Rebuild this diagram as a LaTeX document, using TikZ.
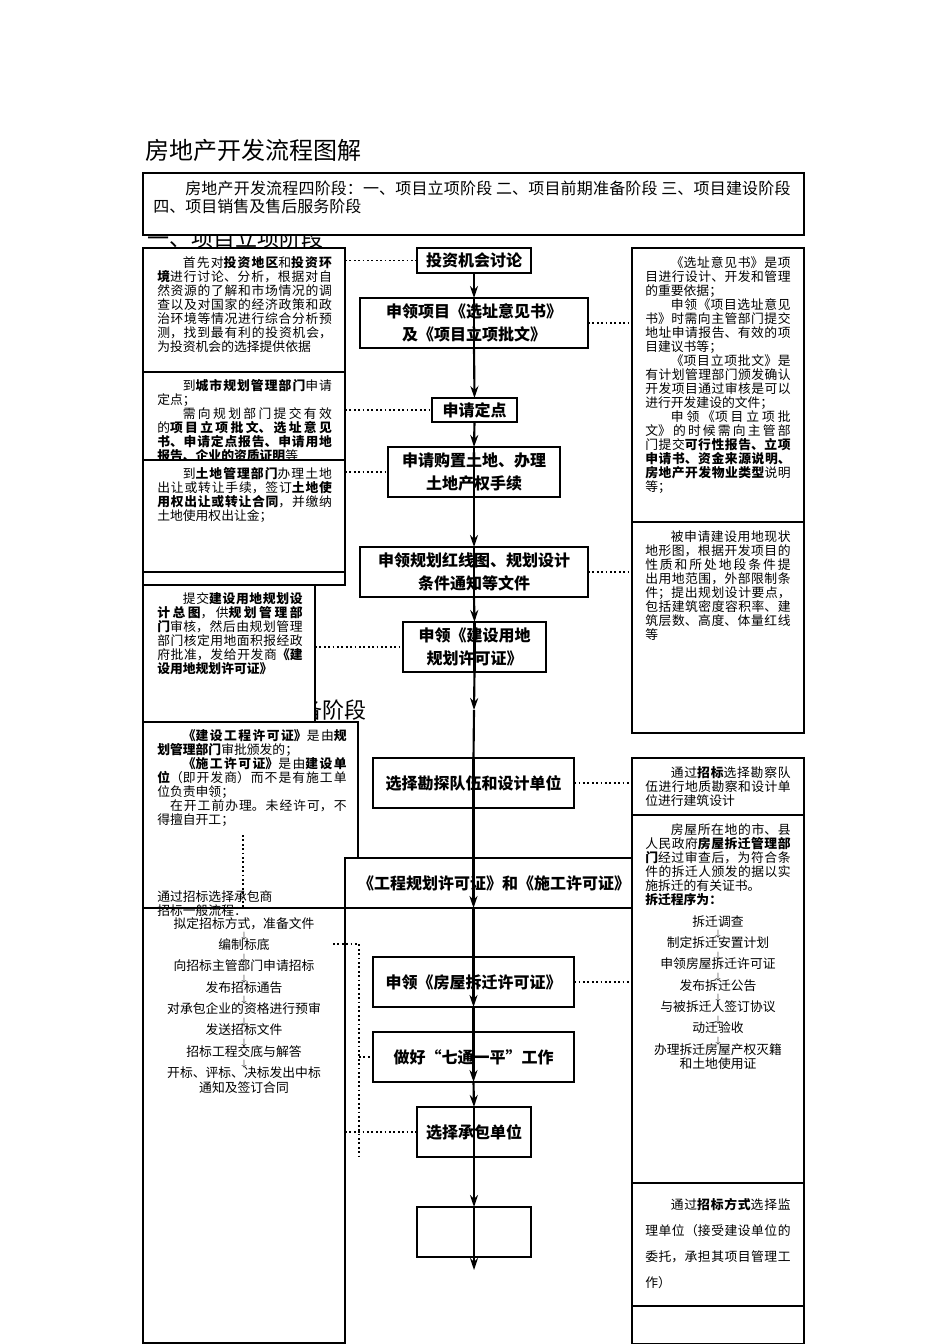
\documentclass[tikz,border=0pt]{standalone}
\usepackage{fontspec}
\setmainfont{Noto Sans CJK SC}
\usetikzlibrary{arrows.meta}
\XeTeXlinebreaklocale "zh"
\XeTeXlinebreakskip=0pt plus 1pt
\newcommand\bx[5]{\node[box,anchor=north west,minimum width=#4*0.75pt,minimum height=#5*0.75pt] (#1) at (#2,#3) {};}
\newcommand\ind{\hspace*{2em}}
\newcommand\dn{\\[-3pt]{\scriptsize$\downarrow$}\\[-3pt]}
\begin{document}
\begin{tikzpicture}[x=0.75pt,y=-0.75pt,
  box/.style={draw,fill=white,line width=1.6pt,inner sep=0pt,outer sep=0pt},
  cbox/.style={draw,fill=white,line width=1.6pt,inner sep=0pt,outer sep=0pt,align=center,font=\fontsize{12}{17}\selectfont\bfseries},
  txt/.style={anchor=north west,inner sep=0pt,align=justify,font=\fontsize{9.6}{10.5}\selectfont},
  ctxt/.style={anchor=north,inner sep=0pt,align=center,font=\fontsize{9.6}{10.5}\selectfont},
  dot/.style={dotted,line width=1.3pt},
  flow/.style={line width=1.6pt,-{Stealth[length=9pt,width=6pt]}}]
\useasboundingbox (0,0) rectangle (950,1344);
\node[anchor=west,inner sep=0pt,font=\fontsize{18}{20}\selectfont] (title) at (145,150) {房地产开发流程图解};
\node[anchor=west,inner sep=0pt,font=\fontsize{16.5}{18}\selectfont] (h1) at (147,238) {一、项目立项阶段};
\bx{intro}{143}{173}{661}{62}
\node[txt,text width=478pt,font=\fontsize{12}{13}\selectfont] (introt) at (153,181) {\ind 房地产开发流程四阶段：一、项目立项阶段 二、项目前期准备阶段 三、项目建设阶段 四、项目销售及售后服务阶段};
% left column
\bx{L1}{143}{248}{202}{124}
\node[txt,text width=131pt] (L1t) at (157,256) {\ind 首先对\textbf{投资地区}和\textbf{投资环境}进行讨论、分析，根据对自然资源的了解和市场情况的调查以及对国家的经济政策和政治环境等情况进行综合分析预测，找到最有利的投资机会，为投资机会的选择提供依据};
\bx{L2}{143}{372}{202}{88}
\node[txt,text width=131pt] (L2t) at (157,379) {\ind 到\textbf{城市规划管理部门}申请定点；\par\ind 需向规划部门提交有效的\textbf{项目立项批文、选址意见书、申请定点报告、申请用地报告、企业的资质证明}等};
\bx{L3}{143}{460}{202}{112}
\node[txt,text width=131pt] (L3t) at (157,467) {\ind 到\textbf{土地管理部门}办理土地出让或转让手续，签订\textbf{土地使用权出让或转让合同}，并缴纳土地使用权出让金；};
\bx{L3b}{143}{572}{202}{13}
\node[anchor=east,inner sep=0pt,font=\fontsize{16.5}{18}\selectfont] (h2) at (367,710) {二、项目前期准备阶段};
\bx{L4}{143}{585}{172}{137}
\node[txt,text width=109pt] (L4t) at (157,592) {\ind 提交\textbf{建设用地规划设计总图}，供\textbf{规划管理部门}审核，然后由规划管理部门核定用地面积报经政府批准，发给开发商\textbf{《建设用地规划许可证》}};
\bx{L5}{143}{722}{215}{186}
\node[txt,text width=142pt] (L5t) at (157,729) {\ind\textbf{《建设工程许可证》}是由\textbf{规划管理部门}审批颁发的；\par\ind\textbf{《施工许可证》}是由\textbf{建设单位}（即开发商）而不是有施工单位负责申领；\par\hspace*{1em}在开工前办理。未经许可，不得擅自开工；};
\bx{band}{345}{858}{287}{50}
\node[font=\fontsize{12}{14}\selectfont\bfseries,inner sep=0pt] (bandt) at (494,883) {《工程规划许可证》和《施工许可证》};
\bx{L6}{143}{908}{202}{435}
\node[txt,text width=142pt] (L6t) at (157,890) {通过招标选择承包商\\招标一般流程：};
\node[ctxt,font=\fontsize{9.6}{11}\selectfont] (L6l) at (244,917) {拟定招标方式，准备文件\dn 编制标底\dn 向招标主管部门申请招标\dn 发布招标通告\dn 对承包企业的资格进行预审\dn 发送招标文件\dn 招标工程交底与解答\dn 开标、评标、决标发出中标\\通知及签订合同};
% right column
\bx{R1}{632}{248}{172}{274}
\node[txt,text width=109pt] (R1t) at (645,256) {\ind《选址意见书》是项目进行设计、开发和管理的重要依据；\par\ind 申领《项目选址意见书》时需向主管部门提交地址申请报告、有效的项目建议书等；\par\ind《项目立项批文》是有计划管理部门颁发确认开发项目通过审核是可以进行开发建设的文件；\par\ind 申领《项目立项批文》的时候需向主管部门提交\textbf{可行性报告、立项申请书、资金来源说明、房地产开发物业类型}说明等；};
\bx{R2}{632}{522}{172}{211}
\node[txt,text width=109pt] (R2t) at (645,530) {\ind 被申请建设用地现状地形图，根据开发项目的性质和所处地段条件提出用地范围，外部限制条件；提出规划设计要点，包括建筑密度容积率、建筑层数、高度、体量红线等};
\bx{R3}{632}{758}{172}{57}
\node[txt,text width=109pt] (R3t) at (645,766) {\ind 通过\textbf{招标}选择勘察队伍进行地质勘察和设计单位进行建筑设计};
\bx{R4}{632}{815}{172}{368}
\node[txt,text width=109pt] (R4t) at (645,823) {\ind 房屋所在地的市、县人民政府\textbf{房屋拆迁管理部门}经过审查后，为符合条件的拆迁人颁发的据以实施拆迁的有关证书。\par\textbf{拆迁程序为：}};
\node[ctxt,font=\fontsize{9.6}{11}\selectfont] (R4l) at (718,915) {拆迁调查\dn 制定拆迁安置计划\dn 申领房屋拆迁许可证\dn 发布拆迁公告\dn 与被拆迁人签订协议\dn 动迁验收\dn 办理拆迁房屋产权灭籍\\和土地使用证};
\bx{R5}{632}{1183}{172}{123}
\node[txt,text width=109pt,font=\fontsize{9.6}{19.5}\selectfont] (R5t) at (645,1198) {\ind 通过\textbf{招标方式}选择监理单位（接受建设单位的委托，承担其项目管理工作）};
\bx{R6}{632}{1306}{172}{38}
% centre column
\node[cbox,minimum width=85.5pt,minimum height=18.75pt] (C1) at (474,260.5) {投资机会讨论};
\node[cbox,minimum width=171pt,minimum height=37.5pt] (C2) at (474,323) {申领项目《选址意见书》\\及《项目立项批文》};
\node[cbox,minimum width=64pt,minimum height=18pt] (C3) at (474.5,410) {申请定点};
\node[cbox,minimum width=129pt,minimum height=37.5pt] (C4) at (474,472) {申请购置土地、办理\\土地产权手续};
\node[cbox,minimum width=171pt,minimum height=37.5pt] (C5) at (474,572) {申领规划红线图、规划设计\\条件通知等文件};
\node[cbox,minimum width=107pt,minimum height=37.5pt] (C6) at (474.5,647) {申领《建设用地\\规划许可证》};
\node[cbox,minimum width=151pt,minimum height=37.5pt] (C7) at (473.5,783) {选择勘探队伍和设计单位};
\node[cbox,minimum width=151pt,minimum height=37.5pt] (C8) at (473.5,982) {申领《房屋拆迁许可证》};
\node[cbox,minimum width=151pt,minimum height=37.5pt] (C9) at (473.5,1057) {做好“七通一平”工作};
\node[cbox,minimum width=85.5pt,minimum height=37.5pt] (C10) at (474,1132) {选择承包单位};
\node[cbox,minimum width=85.5pt,minimum height=37.5pt] (C11) at (474,1232) {};
\coordinate (end) at (474,1270);
% flow
\draw[flow] (C1.south) -- (C2.north);
\draw[flow] (C2.south) -- (C3.north);
\draw[flow] (C3.south) -- (C4.north);
\draw[flow] (C4.south) -- (C5.north);
\draw[flow] (C5.south) -- (C6.north);
\draw[flow] (C6.south) -- (474,710);
\draw[line width=1.6pt] (474,710) -- (C7.north);
\draw[flow] (C7.south) -- (band.south -| C7.south);
\draw[flow] (band.south -| C7.south) -- (C8.south);
\draw[flow] (C8.south) -- (C9.south);
\draw[flow] (C9.south) -- (C10.north);
\draw[flow] (C10.south) -- (C11.north);
\draw[flow] (C11.north) -- (end);
\draw[line width=1.6pt] (C2.north) -- (C2.south) (C4.north) -- (C4.south) (C5.north) -- (C5.south) (C6.north) -- (C6.south) (C7.north) -- (C7.south) (C10.north)--(C10.south);
% dotted connectors
\draw[dot] (L1.east |- C1.west) -- (C1.west);
\draw[dot] (C2.east) -- (R1.west |- C2.east);
\draw[dot] (L2.east |- C3.west) -- (C3.west);
\draw[dot] (L3.east |- C4.west) -- (C4.west);
\draw[dot] (C5.east) -- (R2.west |- C5.east);
\draw[dot] (L4.east |- C6.west) -- (C6.west);
\draw[dot] (C7.east) -- (R3.west |- C7.east);
\draw[dot] (C8.east) -- (R4.west |- C8.east);
\draw[dot] (243,835) -- (L6.north -| 243,0);
\draw[dot] (333,944) -- (359,944) -- (359,1157);
\draw[dot] (359,1057) -- (C9.west);
\draw[dot] (L6.east |- C10.west) -- (C10.west);
\end{tikzpicture}
\end{document}
